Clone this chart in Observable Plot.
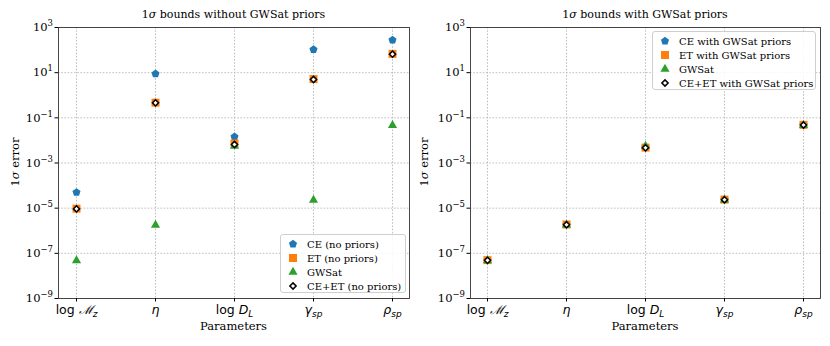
<!DOCTYPE html>
<html><head><meta charset="utf-8">
<script src="https://cdn.jsdelivr.net/npm/d3@7"></script>
<script src="https://cdn.jsdelivr.net/npm/@observablehq/plot@0.6"></script>
<style>
body{margin:0;background:#fff;}
#root{position:relative;width:830px;height:346px;font-family:"DejaVu Serif",serif;color:#000;overflow:hidden;}
.panel{position:absolute;top:0;}
.title{position:absolute;top:8px;font-size:11px;text-align:center;white-space:nowrap;}
.xlab{position:absolute;top:319px;font-size:11.5px;text-align:center;white-space:nowrap;}
.ylab{position:absolute;font-size:11.5px;white-space:nowrap;transform:translate(-50%,-50%) rotate(-90deg);}
.legend{position:absolute;background:rgba(255,255,255,0.85);border:1px solid #cfcfcf;border-radius:3px;font-size:10px;box-sizing:border-box;padding:2px 0 0 0;}
.legend .row{display:flex;align-items:center;height:14px;white-space:nowrap;}
.legend svg{display:block;margin:0 8px 0 6px;}
</style></head>
<body><div id="root"></div>
<script>
// ---- data ----
const params = ["logMz", "eta", "logDL", "gamma_sp", "rho_sp"];
const yTicks = [1e-9, 1e-7, 1e-5, 1e-3, 1e-1, 1e1, 1e3];
const yTickExponents = ["−9", "−7", "−5", "−3", "−1", "1", "3"];

// Left panel: without GWSat priors
const ceNoPriors   = [5e-5, 9.0, 0.0145, 105, 280];
const etNoPriors   = [9.5e-6, 0.47, 0.0073, 5.2, 68];
const gwsat        = [4.8e-8, 1.8e-6, 0.0056, 2.3e-5, 0.047];
const ceetNoPriors = [9.3e-6, 0.46, 0.0066, 5.0, 66];

// Right panel: with GWSat priors
const ceWithPriors   = [5.0e-8, 1.9e-6, 0.0050, 2.4e-5, 0.049];
const etWithPriors   = [5.0e-8, 1.9e-6, 0.0048, 2.4e-5, 0.049];
const ceetWithPriors = [4.9e-8, 1.85e-6, 0.0047, 2.35e-5, 0.048];

const leftNames  = ["CE (no priors)", "ET (no priors)", "GWSat", "CE+ET (no priors)"];
const rightNames = ["CE with GWSat priors", "ET with GWSat priors", "GWSat", "CE+ET with GWSat priors"];
const titles = ["1<i>σ</i> bounds without GWSat priors", "1<i>σ</i> bounds with GWSat priors"];

const colors = {ce: "#1f77b4", et: "#ff7f0e", gw: "#2ca02c"};

// pentagon symbol type
const pentagon = {
  draw(ctx, size) {
    const r = Math.sqrt(size / 2.3776);
    for (let i = 0; i < 5; i++) {
      const a = -Math.PI / 2 + i * 2 * Math.PI / 5;
      const x = r * Math.cos(a), y = r * Math.sin(a);
      if (i) ctx.lineTo(x, y); else ctx.moveTo(x, y);
    }
    ctx.closePath();
  }
};

const styles = [
  {symbol: pentagon, fill: colors.ce, r: 3.7},
  {symbol: "square", fill: colors.et, r: 4.5},
  {symbol: "triangle", fill: colors.gw, r: 3.4},
  {symbol: "diamond2", fill: "white", stroke: "black", strokeWidth: 1.5, r: 2.8}
];

function rows(vals) { return params.map((p, i) => ({p, v: vals[i]})); }

function labelHTML(key) {
  const sub = (t) => `<tspan dy="3" font-size="9" font-style="italic">${t}</tspan>`;
  switch (key) {
    case "logMz": return `log <tspan font-family="DejaVu Serif" font-style="italic">ℳ</tspan>${sub("z")}`;
    case "eta": return `<tspan font-style="italic">η</tspan>`;
    case "logDL": return `log <tspan font-style="italic">D</tspan>${sub("L")}`;
    case "gamma_sp": return `<tspan font-style="italic">γ</tspan>${sub("sp")}`;
    case "rho_sp": return `<tspan font-style="italic">ρ</tspan>${sub("sp")}`;
  }
  return key;
}

function panel(series, ml, mr) {
  const svg = Plot.plot({
    width: 415, height: 346,
    marginLeft: ml, marginRight: mr, marginTop: 27, marginBottom: 48,
    style: {fontFamily: "DejaVu Serif", fontSize: "11px", background: "transparent", color: "black"},
    x: {type: "point", domain: params, padding: 0.2},
    y: {type: "log", domain: [1e-9, 1e3]},
    marks: [
      Plot.gridX(params, {stroke: "#b0b0b0", strokeOpacity: 1, strokeWidth: 0.8, strokeDasharray: "1.6,1.6"}),
      Plot.gridY(yTicks, {stroke: "#b0b0b0", strokeOpacity: 1, strokeWidth: 0.8, strokeDasharray: "1.6,1.6"}),
      ...series.map((vals, k) => Plot.dot(rows(vals), {x: "p", y: "v", ...styles[k]})),
      Plot.frame({stroke: "#333", strokeWidth: 0.9}),
      Plot.axisX(params, {tickSize: 3.5, tickPadding: 3, label: null, tickFormat: d => d, fontSize: 12.5}),
      Plot.axisY(yTicks, {tickSize: 3.5, tickPadding: 2, label: null,
        tickFormat: d => "E" + yTicks.findIndex(t => Math.abs(Math.log10(t) - Math.log10(d)) < 1e-6), fontSize: 11.5})
    ]
  });
  const s = d3.select(svg);
  s.selectAll('g[aria-label="x-axis tick label"] text').each(function () {
    const key = this.textContent;
    d3.select(this).attr("font-family", "DejaVu Sans").html(labelHTML(key));
  });
  s.selectAll('g[aria-label="y-axis tick label"] text').each(function () {
    const i = +this.textContent.slice(1);
    d3.select(this).html(`10<tspan dy="-5" font-size="8.5">${yTickExponents[i]}</tspan>`);
  });
  return svg;
}

const root = document.getElementById("root");

function addPanel(left, series, ml, mr, title, names, legendPos) {
  const div = document.createElement("div");
  div.className = "panel";
  div.style.left = left + "px";
  div.appendChild(panel(series, ml, mr));
  root.appendChild(div);
  const cx = left + ml + (415 - ml - mr) / 2;
  const t = document.createElement("div");
  t.className = "title"; t.innerHTML = title;
  t.style.left = (cx - 150) + "px"; t.style.width = "300px";
  root.appendChild(t);
  const xl = document.createElement("div");
  xl.className = "xlab"; xl.textContent = "Parameters";
  xl.style.left = (cx - 100) + "px"; xl.style.width = "200px";
  root.appendChild(xl);
  const yl = document.createElement("div");
  yl.className = "ylab"; yl.innerHTML = "1<i>σ</i> error";
  yl.style.left = (left + (left ? 9 : 15)) + "px"; yl.style.top = "162px";
  root.appendChild(yl);
  // legend
  const lg = document.createElement("div");
  lg.className = "legend";
  Object.assign(lg.style, legendPos);
  names.forEach((n, k) => {
    const row = document.createElement("div");
    row.className = "row";
    const st = styles[k];
    const sym = typeof st.symbol === "string" ? {square: d3.symbolSquare, triangle: d3.symbolTriangle, diamond2: d3.symbolDiamond2}[st.symbol] : st.symbol;
    const path = d3.symbol(sym, st.r * st.r * Math.PI)();
    row.innerHTML = `<svg width="12" height="12" viewBox="-6 -6 12 12"><path d="${path}" fill="${st.fill}" stroke="${st.stroke || "none"}" stroke-width="${st.strokeWidth || 0}"/></svg><span>${n}</span>`;
    lg.appendChild(row);
  });
  root.appendChild(lg);
}

addPanel(0, [ceNoPriors, etNoPriors, gwsat, ceetNoPriors], 58, 6, titles[0], leftNames,
  {left: "280px", top: "234px", width: "126px", height: "59px"});
addPanel(415, [ceWithPriors, etWithPriors, gwsat, ceetWithPriors], 55, 10, titles[1], rightNames,
  {left: "652px", top: "31px", width: "164px", height: "59px"});
</script>
</body></html>
